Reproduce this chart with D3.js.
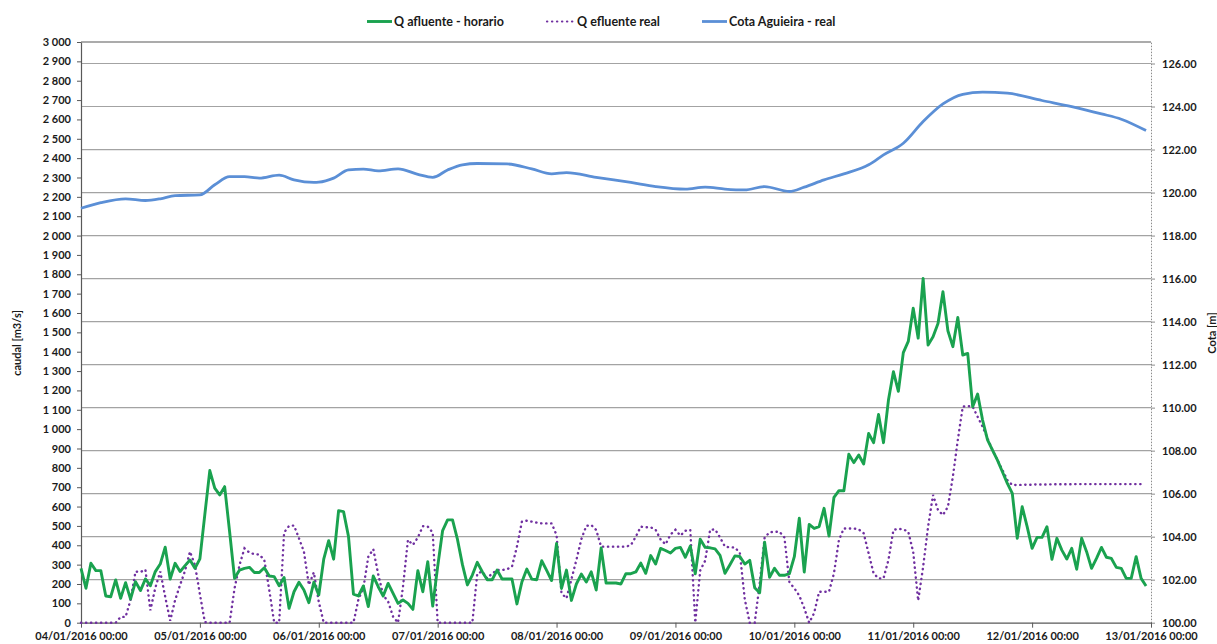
<!DOCTYPE html>
<html><head><meta charset="utf-8">
<script src="https://cdn.jsdelivr.net/npm/d3@7"></script>
<style>
body{margin:0;background:#fff}
svg{display:block}
text{font-family:Lato,'Liberation Sans',sans-serif;font-weight:bold;fill:#1a1a1a}
</style>
</head><body>
<svg id="chart" width="1217" height="644"></svg>
<script>
// ---------- data ----------
const startDay = [2016, 0, 4];           // 04/01/2016 00:00, one value per hour
const endDay = [2016, 0, 13];
const seriesNames = ["Q afluente - horario", "Q efluente real", "Cota Aguieira - real"];
const xTickLabels = ["04/01/2016 00:00","05/01/2016 00:00","06/01/2016 00:00","07/01/2016 00:00","08/01/2016 00:00",
                     "09/01/2016 00:00","10/01/2016 00:00","11/01/2016 00:00","12/01/2016 00:00","13/01/2016 00:00"];
const leftTickValues = [0,100,200,300,400,500,600,700,800,900,1000,1100,1200,1300,1400,1500,1600,1700,1800,1900,
                        2000,2100,2200,2300,2400,2500,2600,2700,2800,2900,3000];
const rightTickValues = [100,102,104,106,108,110,112,114,116,118,120,122,124,126];

// Q afluente - horario (m3/s), hourly
const qAfluente = [
  281,178,307,269,269,138,134,221,126,207,122,212,166,226,191,264,303,390,226,307,264,295,324,281,
  330,560,786,695,660,703,470,229,272,281,286,259,259,284,241,238,191,234,74,160,209,169,103,209,
  143,328,424,328,579,574,445,147,138,190,83,241,186,138,203,152,100,117,100,69,269,160,315,86,
  290,476,531,531,430,300,195,246,312,263,222,222,272,226,226,226,97,210,277,225,222,320,270,218,
  410,177,272,115,200,251,210,263,169,386,205,205,205,200,253,253,262,308,255,347,303,384,373,360,
  384,389,338,396,253,431,389,387,381,348,255,299,345,342,303,322,181,155,416,234,281,245,245,253,
  341,540,262,508,487,496,591,448,648,682,682,870,827,866,820,978,930,1076,930,1150,1297,1195,1395,1453,
  1625,1470,1779,1434,1477,1546,1710,1508,1426,1577,1383,1391,1116,1181,1047,944,892,840,780,720,668,436,599,496,
  384,441,441,496,327,436,375,329,384,276,436,367,281,332,389,338,332,286,281,229,229,341,229,190
];
// Q efluente real (m3/s), hourly
const qEfluente = [
  0,0,0,0,0,0,0,0,30,30,117,264,262,274,64,180,264,134,10,117,195,268,367,298,
  148,3,0,0,0,0,0,178,298,384,362,354,352,324,170,0,0,466,500,502,436,367,195,260,
  108,0,0,0,0,0,0,0,120,178,341,380,250,143,109,31,0,186,428,402,440,498,497,465,
  0,0,0,0,0,0,0,0,255,264,229,255,272,272,276,290,393,522,527,522,517,513,513,513,
  453,152,126,224,324,431,500,505,479,393,393,393,393,393,393,401,444,496,493,493,480,430,405,455,
  480,450,475,479,0,270,320,480,482,440,393,389,389,360,120,0,0,200,440,467,470,470,440,210,
  178,140,75,0,50,160,160,160,255,427,487,487,487,482,462,358,255,229,229,324,479,485,482,470,
  365,114,289,496,660,582,556,599,754,944,1116,1119,1116,1064,1013,952,892,840,789,737,711,712,712,713,
  713,714,714,714,715,715,715,715,715,716,716,716,716,716,716,716,716,716,716,716,716,716,716
];
// Cota Aguieira - real (m), read at these hours
const cotaHours = [0,4,9,13,16,19,24,27,30,33,36,40,43,47,48,51,54,57,60,64,68,71,74,77,80,86,91,95,98,104,
  111,116,122,126,130,134,138,143,146,150,154,159,162,166,170,174,178,182,187,194,200,206,210,215];
const cotaValues = [119.27,119.53,119.71,119.63,119.71,119.86,119.89,120.36,120.74,120.74,120.67,120.81,120.59,120.47,
  120.48,120.67,121.05,121.09,121.01,121.10,120.85,120.71,121.05,121.29,121.35,121.33,121.10,120.87,120.93,120.71,
  120.47,120.28,120.16,120.25,120.16,120.12,120.28,120.05,120.25,120.59,120.87,121.29,121.75,122.29,123.30,124.12,
  124.57,124.67,124.62,124.28,124.00,123.66,123.41,122.88];

// ---------- chart ----------
const svg = d3.select("#chart");
const L = 81, R = 1151, T = 42, B = 622.7;
const hourDate = h => new Date(startDay[0], startDay[1], startDay[2], h);
const x = d3.scaleTime().domain([new Date(...startDay), new Date(...endDay)]).range([L, R]);
const yL = d3.scaleLinear().domain([0, 3000]).range([B, T]);
const yR = d3.scaleLinear().domain([100, 127]).range([B, T]);

// gridlines (from secondary axis)
svg.append("g").selectAll("line").data(rightTickValues.filter(v => v > 100)).join("line")
  .attr("x1", L).attr("x2", R).attr("y1", d => yR(d)).attr("y2", d => yR(d))
  .attr("stroke", "#a3a3a3").attr("stroke-width", 1.2);
// top border
svg.append("line").attr("x1", L).attr("x2", R).attr("y1", T).attr("y2", T)
  .attr("stroke", "#595959").attr("stroke-width", 1.2);

const fmtThousands = d => d3.format(",")(d).replace(/,/g, " ");
const axisFont = g => g.selectAll("text").style("font-size", "11px").style("font-weight", "bold").attr("fill", "#1a1a1a");

// left axis
const gL = svg.append("g").attr("transform", `translate(${L},0)`)
  .call(d3.axisLeft(yL).tickValues(leftTickValues).tickFormat(fmtThousands).tickSize(4).tickPadding(6).tickSizeOuter(0));
gL.select(".domain").attr("stroke", "#595959").attr("stroke-width", 1.2);
gL.selectAll(".tick line").attr("stroke", "#595959");
axisFont(gL);

// right axis
const gR = svg.append("g").attr("transform", `translate(${R},0)`)
  .call(d3.axisRight(yR).tickValues(rightTickValues).tickFormat(d3.format(".2f")).tickSize(4).tickPadding(7).tickSizeOuter(0));
gR.select(".domain").attr("stroke", "#8c8c8c").attr("stroke-width", 1).attr("stroke-dasharray", "1.5,1.5");
gR.selectAll(".tick line").attr("stroke", "#8c8c8c");
axisFont(gR);

// bottom axis
const xTickDates = d3.range(xTickLabels.length).map(i => hourDate(i * 24));
const gB = svg.append("g").attr("transform", `translate(0,${B})`)
  .call(d3.axisBottom(x).tickValues(xTickDates).tickFormat((d, i) => xTickLabels[i]).tickSize(5).tickPadding(5).tickSizeOuter(0));
gB.select(".domain").attr("stroke", "#595959").attr("stroke-width", 1.2);
gB.selectAll(".tick line").attr("stroke", "#595959");
axisFont(gB);

// axis titles
svg.append("text").attr("transform", "translate(21,343) rotate(-90)").attr("text-anchor", "middle")
  .style("font-size", "11px").text("caudal [m3/s]");
svg.append("text").attr("transform", "translate(1216,333) rotate(-90)").attr("text-anchor", "middle")
  .style("font-size", "11px").text("Cota [m]");

// lines
const lineL = d3.line().x(d => x(d.t)).y(d => yL(d.v));
const lineR = d3.line().x(d => x(d.t)).y(d => yR(d.v)).curve(d3.curveMonotoneX);

const effData = qEfluente.map((v, i) => ({t: hourDate(i), v}));
const afData = qAfluente.map((v, i) => ({t: hourDate(i), v}));
const cotaData = cotaHours.map((h, i) => ({t: hourDate(h), v: cotaValues[i]}));

svg.append("path").datum(cotaData).attr("d", lineR).attr("fill", "none")
  .attr("stroke", "#5b8fd6").attr("stroke-width", 2.8).attr("stroke-linejoin", "round");
svg.append("path").datum(effData).attr("d", lineL).attr("fill", "none")
  .attr("stroke", "#7030a0").attr("stroke-width", 2.4).attr("stroke-linecap", "round")
  .attr("stroke-dasharray", "0.3,4.7");
svg.append("path").datum(afData).attr("d", lineL).attr("fill", "none")
  .attr("stroke", "#1aa24f").attr("stroke-width", 2.9).attr("stroke-linejoin", "round");

// legend
const legend = [
  {name: seriesNames[0], x1: 367, x2: 392, color: "#1aa24f", dash: null, w: 2.9, cap: "butt"},
  {name: seriesNames[1], x1: 547, x2: 575, color: "#7030a0", dash: "0.3,4.7", w: 2.2, cap: "round"},
  {name: seriesNames[2], x1: 702, x2: 727, color: "#5b8fd6", dash: null, w: 2.8, cap: "butt"}
];
const lg = svg.append("g").selectAll("g").data(legend).join("g");
lg.append("line").attr("x1", d => d.x1).attr("x2", d => d.x2).attr("y1", 21.5).attr("y2", 21.5)
  .attr("stroke", d => d.color).attr("stroke-width", d => d.w).attr("stroke-dasharray", d => d.dash)
  .attr("stroke-linecap", d => d.cap);
lg.append("text").attr("x", d => d.x2 + 2).attr("y", 26).style("font-size", "12.5px").text(d => d.name);
</script>
</body></html>
